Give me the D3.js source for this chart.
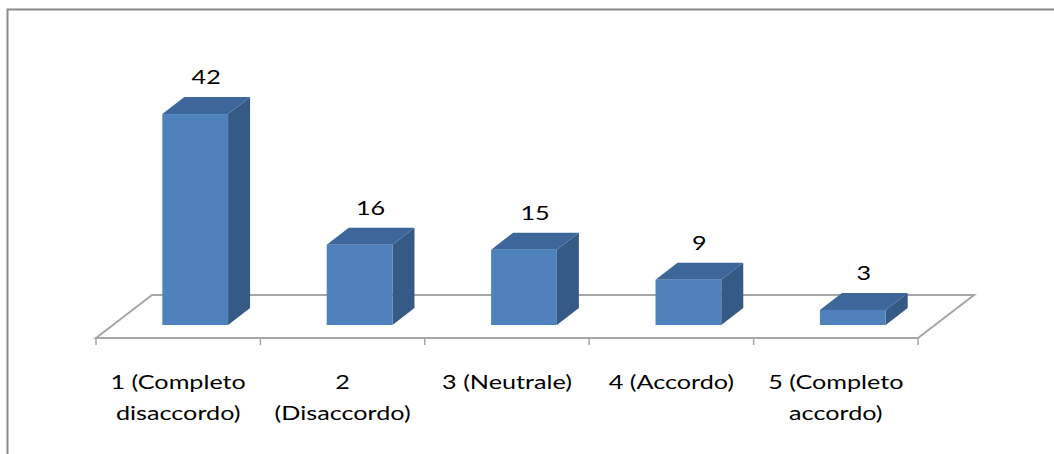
<!DOCTYPE html>
<html>
<head>
<meta charset="utf-8">
<script src="https://cdn.jsdelivr.net/npm/d3@7"></script>
<style>
  html, body { margin: 0; padding: 0; background: #fff; }
  svg { display: block; }
  text { font-family: Lato, "Open Sans", sans-serif; fill: #000; }
</style>
</head>
<body>
<svg id="chart" width="1054" height="454"></svg>
<script>
// Responses on a 1-5 agreement scale
const categories = [
  ["1 (Completo", "disaccordo)"],
  ["2", "(Disaccordo)"],
  ["3 (Neutrale)"],
  ["4 (Accordo)"],
  ["5 (Completo", "accordo)"]
];
const values = [42, 16, 15, 9, 3];
const valueMax = 45;

const svg = d3.select("#chart");
const textStretch = 1.26;   // glyphs are drawn slightly wide

// Outer chart frame
svg.append("rect")
  .attr("x", 7.5).attr("y", 9.5)
  .attr("width", 1060).attr("height", 460)
  .attr("fill", "none")
  .attr("stroke", "#8a8a8a")
  .attr("stroke-width", 2);

// Floor geometry (oblique projection)
const frontY = 338;
const floorDx = 56, floorDy = -43;     // depth of the floor
const barDx = 22, barDy = -17;         // depth of each bar
const x = d3.scaleBand()
  .domain(d3.range(values.length))
  .range([96, 918])
  .paddingInner(0).paddingOuter(0);
const h = d3.scaleLinear().domain([0, valueMax]).range([0, 226]);
const barW = x.bandwidth() * 0.40;

const floorColor = "#a6a6a6";
const x0 = x.range()[0], x1 = x.range()[1];
svg.append("path")
  .attr("d", `M${x0},${frontY} L${x0 + floorDx},${frontY + floorDy} L${x1 + floorDx},${frontY + floorDy} L${x1},${frontY} Z`)
  .attr("fill", "none")
  .attr("stroke", floorColor)
  .attr("stroke-width", 2);

// Category tick marks on the front edge
svg.append("g").selectAll("line")
  .data(d3.range(values.length + 1))
  .join("line")
  .attr("x1", i => x0 + i * x.step())
  .attr("x2", i => x0 + i * x.step())
  .attr("y1", frontY)
  .attr("y2", frontY + 7)
  .attr("stroke", floorColor)
  .attr("stroke-width", 1.5);

// Bars: front face, top and right side
const bars = values.map((v, i) => {
  const cx = x(i) + x.bandwidth() / 2 + floorDx / 2 - barDx / 2;
  const by = frontY + floorDy / 2 - barDy / 2;
  const hh = h(v);
  return { v, left: cx - barW / 2, right: cx + barW / 2, bottom: by, top: by - hh };
});

const g = svg.append("g");
bars.forEach(b => {
  // side
  g.append("path")
    .attr("d", `M${b.right},${b.bottom} L${b.right + barDx},${b.bottom + barDy} L${b.right + barDx},${b.top + barDy} L${b.right},${b.top} Z`)
    .attr("fill", "#355a86");
  // top
  g.append("path")
    .attr("d", `M${b.left},${b.top} L${b.left + barDx},${b.top + barDy} L${b.right + barDx},${b.top + barDy} L${b.right},${b.top} Z`)
    .attr("fill", "#3d679b");
  // front
  g.append("rect")
    .attr("x", b.left).attr("y", b.top)
    .attr("width", b.right - b.left).attr("height", b.bottom - b.top)
    .attr("fill", "#4f81bd");
});

// Value labels above each bar
svg.append("g").selectAll("text")
  .data(bars)
  .join("text")
  .attr("transform", b => `translate(${(b.left + b.right) / 2 + barDx / 2},${b.top + barDy - 13}) scale(${textStretch},1)`)
  .attr("text-anchor", "middle")
  .attr("font-size", 20)
  .text(b => b.v);

// Category labels under the floor
const labels = svg.append("g").selectAll("text")
  .data(categories)
  .join("text")
  .attr("transform", (d, i) => `translate(${x(i) + x.bandwidth() / 2},389) scale(${textStretch},1)`)
  .attr("text-anchor", "middle")
  .attr("font-size", 20);
labels.selectAll("tspan")
  .data(d => d)
  .join("tspan")
  .attr("x", 0)
  .attr("dy", (d, j) => j === 0 ? 0 : 31)
  .text(d => d);
</script>
</body>
</html>
